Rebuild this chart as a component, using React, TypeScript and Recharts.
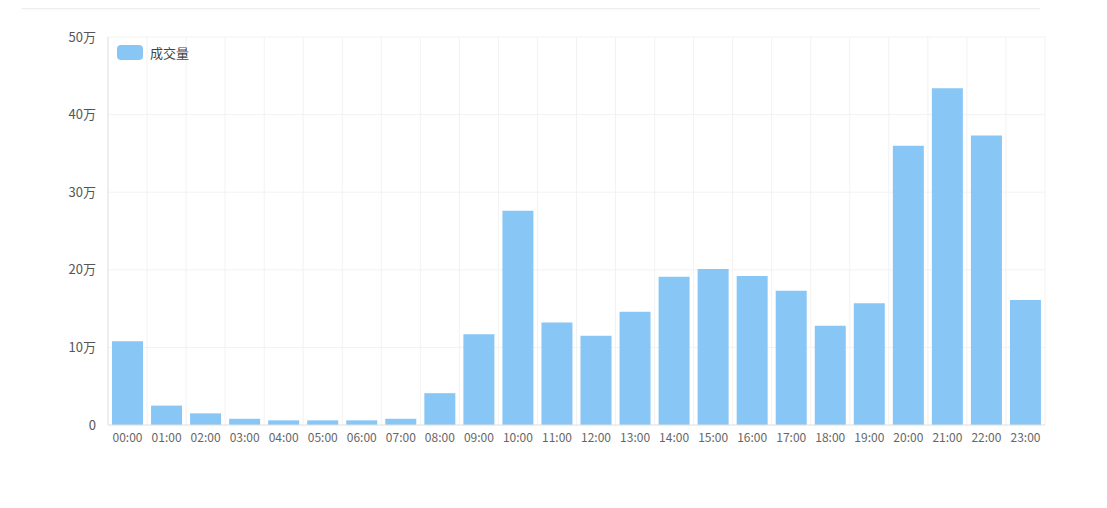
import React from 'react';
import { BarChart, Bar, XAxis, YAxis, CartesianGrid, Legend } from 'recharts';

const hours = [
  '00:00', '01:00', '02:00', '03:00', '04:00', '05:00', '06:00', '07:00',
  '08:00', '09:00', '10:00', '11:00', '12:00', '13:00', '14:00', '15:00',
  '16:00', '17:00', '18:00', '19:00', '20:00', '21:00', '22:00', '23:00',
];

const volume = [
  108000, 25000, 15000, 8000, 6000, 6000, 6000, 8000,
  41000, 117000, 276000, 132000, 115000, 146000, 191000, 201000,
  192000, 173000, 128000, 157000, 360000, 434000, 373000, 161000,
];

const yTicks = [0, 100000, 200000, 300000, 400000, 500000];

const data = hours.map((h, i) => ({ hour: h, volume: volume[i] }));

const BAR_COLOR = '#88c6f6';

const LegendBox = () => (
  <div style={{ display: 'flex', alignItems: 'center', fontSize: 13, color: '#444' }}>
    <span
      style={{
        display: 'inline-block',
        width: 26,
        height: 15,
        borderRadius: 4,
        background: BAR_COLOR,
        marginRight: 7,
      }}
    />
    成交量
  </div>
);

export default function App() {
  return (
    <div style={{ position: 'relative', width: 1091, height: 490, fontFamily: '"Noto Sans CJK SC", "Noto Sans", sans-serif' }}>
      <div
        style={{
          position: 'absolute',
          left: 14,
          top: 0,
          width: 1018,
          height: 0,
          borderTop: '1px solid #ececec',
          boxShadow: '0 1px 3px rgba(0,0,0,0.06)',
        }}
      />
      <BarChart
        width={1091}
        height={490}
        data={data}
        margin={{ top: 10, right: 54, left: 12, bottom: 43 }}
        barCategoryGap={4}
      >
        <CartesianGrid
          stroke="#f2f2f2"
          verticalCoordinatesGenerator={({ offset }: any) =>
            hours.map((_, i) => offset.left + (i * offset.width) / hours.length).concat([offset.left + offset.width])
          }
        />
        <XAxis
          dataKey="hour"
          axisLine={{ stroke: '#e3e3e3' }}
          tickLine={false}
          tick={{ fill: '#666', fontSize: 12 }}
        />
        <YAxis
          width={88}
          domain={[0, 500000]}
          ticks={yTicks}
          tickFormatter={(v: number) => (v === 0 ? '0' : `${v / 10000}万`)}
          axisLine={{ stroke: '#e3e3e3' }}
          tickLine={false}
          tickMargin={6}
          tick={{ fill: '#555', fontSize: 13 }}
        />
        <Legend
          verticalAlign="top"
          align="left"
          content={() => <LegendBox />}
          wrapperStyle={{ top: 35, left: 109, width: 'auto' }}
        />
        <Bar dataKey="volume" name="成交量" fill={BAR_COLOR} isAnimationActive={false} />
      </BarChart>
    </div>
  );
}
